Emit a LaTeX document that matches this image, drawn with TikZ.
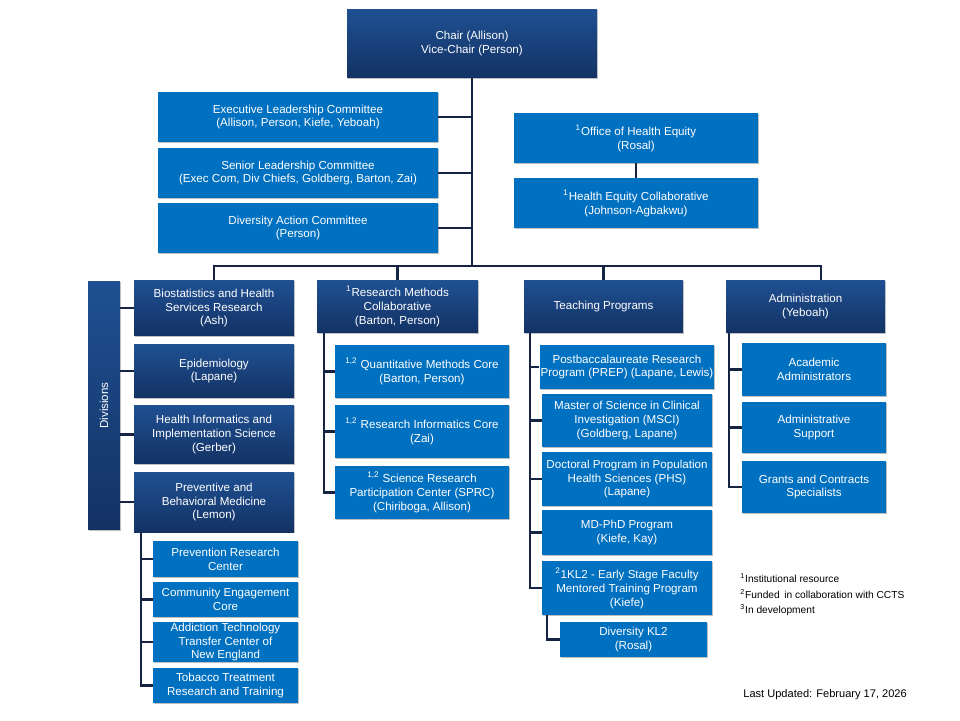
\documentclass[tikz,border=0pt]{standalone}
\usepackage{fontspec}
\setmainfont{Liberation Sans}
\usetikzlibrary{shadows}

\definecolor{midblue}{HTML}{0070C0}
\definecolor{darktop}{RGB}{31,80,146}
\definecolor{darkbot}{RGB}{19,50,100}
\definecolor{linenavy}{RGB}{20,36,66}
\newcommand\boxfont{\fontsize{6.6}{7.9}\selectfont}
\newcommand\notefont{\fontsize{5.8}{6.6}\selectfont}

\tikzset{
  lbox/.style={fill=midblue, text=white, align=center, font=\boxfont, inner sep=0.5pt,
    drop shadow={shadow xshift=0.7pt, shadow yshift=-0.7pt, opacity=0.25, fill=black}},
  dbox/.style={lbox, top color=darktop, bottom color=darkbot},
  conn/.style={draw=linenavy, line width=1.3pt},
  note/.style={anchor=west, font=\notefont, inner sep=0pt}
}

\begin{document}
\begin{tikzpicture}[x=0.02cm, y=-0.02cm]
\useasboundingbox (0,0) rectangle (960,720);

\node[dbox, minimum width=5cm, minimum height=1.38cm] (chair) at (472,43.5) {Chair (Allison)\\Vice-Chair (Person)};

\node[lbox, minimum width=5.6cm, minimum height=1cm] (exec) at (298,117) {Executive Leadership Committee\\(Allison, Person, Kiefe, Yeboah)};
\node[lbox, minimum width=5.6cm, minimum height=1cm] (senior) at (298,173) {Senior Leadership Committee\\(Exec Com, Div Chiefs, Goldberg, Barton, Zai)};
\node[lbox, minimum width=5.6cm, minimum height=1cm] (dac) at (298,228) {Diversity Action Committee\\(Person)};

\node[lbox, minimum width=4.88cm, minimum height=1cm] (ohe) at (636,138) {\textsuperscript{1}Office of Health Equity\\(Rosal)};
\node[lbox, minimum width=4.88cm, minimum height=1cm] (hec) at (636,203) {\textsuperscript{1}Health Equity Collaborative\\(Johnson-Agbakwu)};

\node[dbox, minimum width=0.64cm, minimum height=4.98cm] (divs) at (104,405.5) {};
\node[font=\boxfont, text=white, rotate=90] (divslabel) at (divs.center) {Divisions};

\node[dbox, minimum width=3.2cm, minimum height=1.12cm] (biostat) at (214,308) {Biostatistics and Health\\Services Research\\(Ash)};
\node[dbox, minimum width=3.2cm, minimum height=1.08cm] (epi) at (214,371) {Epidemiology\\(Lapane)};
\node[dbox, minimum width=3.2cm, minimum height=1.18cm] (hiis) at (214,434.5) {Health Informatics and\\Implementation Science\\(Gerber)};
\node[dbox, minimum width=3.2cm, minimum height=1.2cm] (pbm) at (214,502) {Preventive and\\Behavioral Medicine\\(Lemon)};

\node[lbox, minimum width=2.9cm, minimum height=0.72cm] (prc) at (225.5,559) {Prevention Research\\Center};
\node[lbox, minimum width=2.9cm, minimum height=0.7cm] (cec) at (225.5,599.5) {Community Engagement\\Core};
\node[lbox, minimum width=2.9cm, minimum height=0.8cm] (attc) at (225.5,642) {Addiction Technology\\Transfer Center of\\New England};
\node[lbox, minimum width=2.9cm, minimum height=0.7cm] (ttrt) at (225.5,685.5) {Tobacco Treatment\\Research and Training};

\node[dbox, minimum width=3.22cm, minimum height=1.06cm] (rmc) at (397.5,306.5) {\textsuperscript{1}Research Methods\\Collaborative\\(Barton, Person)};
\node[lbox, minimum width=3.48cm, minimum height=1.06cm] (qmc) at (422,371.5) {\textsuperscript{1,2} Quantitative Methods Core\\(Barton, Person)};
\node[lbox, minimum width=3.48cm, minimum height=1.06cm] (ric) at (422,431.5) {\textsuperscript{1,2} Research Informatics Core\\(Zai)};
\node[lbox, minimum width=3.48cm, minimum height=1.06cm] (sprc) at (422,492.5) {\textsuperscript{1,2} Science Research\\Participation Center (SPRC)\\(Chiriboga, Allison)};

\node[dbox, minimum width=3.18cm, minimum height=1.06cm] (teach) at (603.5,306.5) {Teaching Programs};
\node[lbox, minimum width=3.4cm, minimum height=0.88cm] (prep) at (627,367) {Postbaccalaureate Research\\Program (PREP) (Lapane, Lewis)};
\node[lbox, minimum width=3.4cm, minimum height=1.06cm] (msci) at (627,420.5) {Master of Science in Clinical\\Investigation (MSCI)\\(Goldberg, Lapane)};
\node[lbox, minimum width=3.4cm, minimum height=1.08cm] (phs) at (627,479) {Doctoral Program in Population\\Health Sciences (PHS)\\(Lapane)};
\node[lbox, minimum width=3.4cm, minimum height=0.9cm] (mdphd) at (627,532.5) {MD-PhD Program\\(Kiefe, Kay)};
\node[lbox, minimum width=3.4cm, minimum height=1.08cm] (kl2) at (627,588) {\textsuperscript{2}1KL2 - Early Stage Faculty\\Mentored Training Program\\(Kiefe)};
\node[lbox, minimum width=2.94cm, minimum height=0.7cm] (dkl2) at (633.5,639.5) {Diversity KL2\\(Rosal)};

\node[dbox, minimum width=3.18cm, minimum height=1.06cm] (admin) at (805.5,306.5) {Administration\\(Yeboah)};
\node[lbox, minimum width=2.88cm, minimum height=1.06cm] (acad) at (814,369.5) {Academic\\Administrators};
\node[lbox, minimum width=2.88cm, minimum height=1.02cm] (adsup) at (814,427.5) {Administrative\\Support};
\node[lbox, minimum width=2.88cm, minimum height=1.04cm] (grants) at (814,487) {Grants and Contracts\\Specialists};

\node[note] (fn1) at (740,578) {\textsuperscript{1}Institutional resource};
\node[note] (fn2) at (740,594) {\textsuperscript{2}Funded\, in collaboration with CCTS};
\node[note] (fn3) at (740,610) {\textsuperscript{3}In development};
\node[note, font=\fontsize{6.3}{7}\selectfont] (updated) at (743,695) {Last Updated: February 17, 2026};

\coordinate (bus) at (472,266);
\coordinate (admtop) at (821,280);
\coordinate (pbmleg) at (141,532);
\coordinate (rmcleg) at (324,333);
\coordinate (teachleg) at (530,333);
\coordinate (adminleg) at (729,333);
\coordinate (kl2leg) at (547,615);

\draw[conn] (chair.south) -- (bus);
\draw[conn] (exec.east) -- (exec.east -| bus);
\draw[conn] (senior.east) -- (senior.east -| bus);
\draw[conn] (dac.east) -- (dac.east -| bus);
\draw[conn] (biostat.north) |- (bus) -| (admtop);
\draw[conn] (rmc.north) -- (rmc.north |- bus);
\draw[conn] (teach.north) -- (teach.north |- bus);
\draw[conn] (ohe) -- (hec);

\draw[conn] (divs.east |- biostat.west) -- (biostat.west);
\draw[conn] (divs.east |- epi.west) -- (epi.west);
\draw[conn] (divs.east |- hiis.west) -- (hiis.west);
\draw[conn] (divs.east |- pbm.west) -- (pbm.west);

\draw[conn] (pbmleg) |- (ttrt.west);
\draw[conn] (pbmleg |- prc.west) -- (prc.west);
\draw[conn] (pbmleg |- cec.west) -- (cec.west);
\draw[conn] (pbmleg |- attc.west) -- (attc.west);

\draw[conn] (rmcleg) |- (sprc.west);
\draw[conn] (rmcleg |- qmc.west) -- (qmc.west);
\draw[conn] (rmcleg |- ric.west) -- (ric.west);

\draw[conn] (teachleg) |- (kl2.west);
\draw[conn] (teachleg |- prep.west) -- (prep.west);
\draw[conn] (teachleg |- msci.west) -- (msci.west);
\draw[conn] (teachleg |- phs.west) -- (phs.west);
\draw[conn] (teachleg |- mdphd.west) -- (mdphd.west);
\draw[conn] (kl2leg) |- (dkl2.west);

\draw[conn] (adminleg) |- (grants.west);
\draw[conn] (adminleg |- acad.west) -- (acad.west);
\draw[conn] (adminleg |- adsup.west) -- (adsup.west);

\end{tikzpicture}
\end{document}
